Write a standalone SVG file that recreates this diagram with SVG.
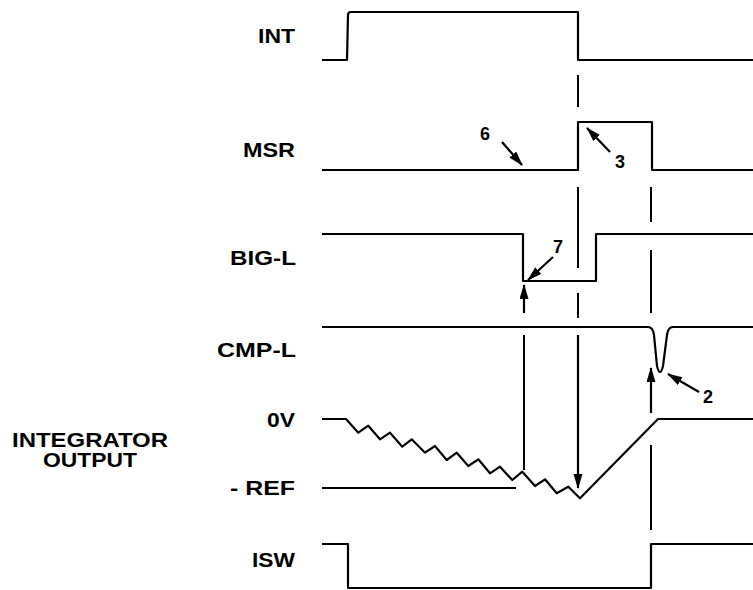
<svg xmlns="http://www.w3.org/2000/svg" width="753" height="590" viewBox="0 0 753 590">
<style>
.w{fill:none;stroke:#000;stroke-width:2.2;stroke-linejoin:round;stroke-linecap:butt}
.c{fill:none;stroke:#000;stroke-width:2}
.a{fill:none;stroke:#000;stroke-width:2.2;marker-end:url(#ah)}
.t{font-family:"Liberation Sans",Arial,Helvetica,sans-serif;font-weight:bold;font-size:20px;fill:#000}
.n{font-family:"Liberation Sans",Arial,Helvetica,sans-serif;font-weight:bold;font-size:18px;fill:#000}
</style>
<defs>
<marker id="ah" markerUnits="userSpaceOnUse" markerWidth="16" markerHeight="10" refX="14" refY="4.5" orient="auto">
<path d="M0,0 L15,4.5 L0,9 Z" fill="#000"/>
</marker>
</defs>
<rect width="753" height="590" fill="#fff"/>
<g id="int">
<text class="t" x="295" y="43" text-anchor="end" textLength="37" lengthAdjust="spacingAndGlyphs">INT</text>
<path class="w" d="M322,60 H347 L348,15 Q348,12 351,12 H578 V60 H753"/>
</g>
<g id="msr">
<text class="t" x="295" y="157" text-anchor="end" textLength="52" lengthAdjust="spacingAndGlyphs">MSR</text>
<path class="w" d="M322,170 H578 V122 H652 V170 H753"/>
<text class="n" x="480" y="140">6</text>
<text class="n" x="615" y="168">3</text>
</g>
<g id="bigl">
<text class="t" x="296" y="265" text-anchor="end" textLength="66" lengthAdjust="spacingAndGlyphs">BIG-L</text>
<path class="w" d="M322,234 H523 V281 H596 V234 H753"/>
<text class="n" x="553" y="253">7</text>
</g>
<g id="cmpl">
<text class="t" x="296" y="357" text-anchor="end" textLength="79" lengthAdjust="spacingAndGlyphs">CMP-L</text>
<path class="w" d="M322,327 H648 Q653,327 654,335 L657,366 Q660,378 663,366 L667,335 Q668,327 673,327 H753"/>
<text class="n" x="703" y="403">2</text>
</g>
<g id="integrator">
<text class="t" x="12" y="447" textLength="156" lengthAdjust="spacingAndGlyphs">INTEGRATOR</text>
<text class="t" x="43" y="467" textLength="94" lengthAdjust="spacingAndGlyphs">OUTPUT</text>
<text class="t" x="295" y="427" text-anchor="end" textLength="28" lengthAdjust="spacingAndGlyphs">0V</text>
<text class="t" x="295" y="495" text-anchor="end" textLength="65" lengthAdjust="spacingAndGlyphs">- REF</text>
<path class="w" d="M322,419 H346 L358.3,432.7 L368.3,425.7 L380,439.3 L390,432.7 L402.3,446.7 L411.7,439.3 L425,452.7 L435,446 L446.7,460 L456.7,452.7 L468.3,466 L478.3,459.3 L490,473.3 L500,466.7 L512.3,480 L522.3,471.7 L535,486 L545,479.3 L556.7,493.3 L568.3,486.7 L580,498.3 L658,419 H753"/>
<path class="w" d="M322,488 H516"/>
</g>
<g id="isw">
<text class="t" x="295" y="567" text-anchor="end" textLength="43" lengthAdjust="spacingAndGlyphs">ISW</text>
<path class="w" d="M322,544 H348 V588 H651 V544 H753"/>
</g>
<g id="connectors">
<path class="c" d="M578,75 V107 M578,187 V268 M578,293 V318"/>
<path class="a" d="M578,335 V488"/>
<path class="c" d="M651,187 V222 M651,250 V313 M651,445 V530"/>
<path class="a" d="M651,413 V368"/>
<path class="a" d="M524,313 V285"/>
<path class="c" d="M524,335 V470"/>
<path class="a" d="M502,142 L522,165"/>
<path class="a" d="M610,152 L587,128"/>
<path class="a" d="M553,257 L528,280"/>
<path class="a" d="M699,392 L668,374"/>
</g>
</svg>
